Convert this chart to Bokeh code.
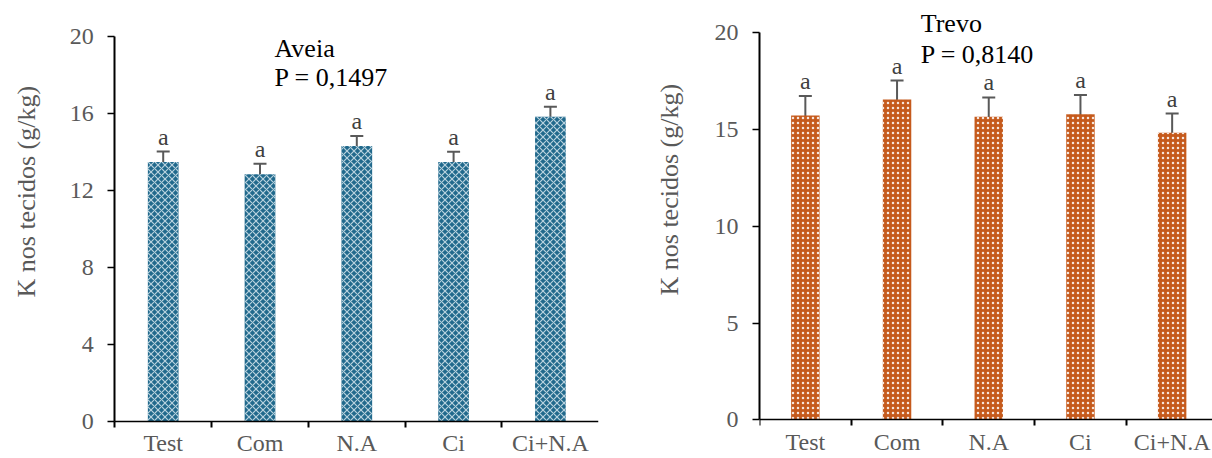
from bokeh.plotting import figure
from bokeh.models import (ColumnDataSource, Range1d, FixedTicker, Whisker, TeeHead, Label, Title)
from bokeh.layouts import row
from bokeh.core.properties import value
from bokeh.embed import file_html
from bokeh.resources import INLINE

categories = ["Test", "Com", "N.A", "Ci", "Ci+N.A"]
aveia_values = [13.47, 12.83, 14.30, 13.47, 15.81]
aveia_errors = [0.54, 0.54, 0.52, 0.53, 0.52]
aveia_letters = ["a", "a", "a", "a", "a"]
trevo_values = [15.73, 16.55, 15.66, 15.79, 14.83]
trevo_errors = [1.00, 0.98, 1.00, 0.99, 1.00]
trevo_letters = ["a", "a", "a", "a", "a"]
aveia_yticks = [0, 4, 8, 12, 16, 20]
trevo_yticks = [0, 5, 10, 15, 20]

FONT = "Liberation Serif"
GRAY = "#595959"
YTITLE = "K nos tecidos (g/kg)"


def make_panel(vals, errs, letters, yticks, width, height, borders, x_rng, y_rng,
               fill, hatch, hatch_color, hatch_scale, hatch_weight, bar_w,
               title1, title2, tpos, ytitle_standoff, ytitle_offset, fixed_y):
    centers = [i + 0.5 for i in range(len(categories))]
    src = ColumnDataSource(dict(
        x=centers, top=vals, upper=[v + e for v, e in zip(vals, errs)],
        lower=[v - e for v, e in zip(vals, errs)], lab=letters))
    p = figure(width=width, height=height, output_backend="svg", toolbar_location=None,
               title_location=None,
               x_range=Range1d(*x_rng), y_range=Range1d(*y_rng),
               min_border_left=borders[0], min_border_right=borders[1],
               min_border_top=borders[2], min_border_bottom=borders[3])
    p.outline_line_color = None
    p.grid.visible = False
    p.background_fill_color = "white"
    p.border_fill_color = "white"

    p.vbar(x="x", top="top", bottom=0, width=bar_w, source=src, fill_color=fill,
           line_color=None, hatch_pattern=hatch, hatch_color=hatch_color,
           hatch_scale=hatch_scale, hatch_weight=hatch_weight)
    p.add_layout(Whisker(base="x", upper="upper", lower="lower", source=src,
                         line_color=GRAY, line_width=2,
                         upper_head=TeeHead(size=13, line_color=GRAY, line_width=2),
                         lower_head=TeeHead(size=13, line_color=GRAY, line_width=2)))
    p.text(x="x", y="upper", text="lab", source=src, text_align="center",
           text_baseline="bottom", y_offset=-2,
           text_font=value(FONT), text_font_size="24px", text_color="#404040")

    # x axis (drawn at y = 0)
    xa = p.xaxis[0]
    xa.ticker = FixedTicker(ticks=centers, minor_ticks=list(range(len(categories) + 1)))
    xa.major_label_overrides = {c: n for c, n in zip(centers, categories)}
    xa.bounds = (0, len(categories))
    xa.fixed_location = 0
    xa.major_tick_out = 0
    xa.major_tick_in = 0
    xa.minor_tick_out = 6
    xa.minor_tick_in = 0
    xa.minor_tick_line_color = "black"
    xa.minor_tick_line_width = 2
    xa.axis_line_color = "black"
    xa.axis_line_width = 1.5
    xa.major_label_text_font = FONT
    xa.major_label_text_font_size = "24px"
    xa.major_label_text_color = GRAY
    xa.major_label_standoff = 3

    # y axis
    ya = p.yaxis[0]
    ya.ticker = FixedTicker(ticks=yticks)
    ya.bounds = (0, 20)
    if fixed_y:
        ya.fixed_location = 0
    ya.major_tick_out = 7
    ya.major_tick_in = 0
    ya.minor_tick_line_color = None
    ya.major_tick_line_color = "black"
    ya.major_tick_line_width = 1.5
    ya.axis_line_color = "black"
    ya.axis_line_width = 2
    ya.major_label_text_font = FONT
    ya.major_label_text_font_size = "24px"
    ya.major_label_text_color = GRAY
    ya.major_label_standoff = 14

    p.add_layout(Title(text=YTITLE, align="left", offset=ytitle_offset,
                       vertical_align="bottom", standoff=ytitle_standoff,
                       text_font=FONT, text_font_size="26px", text_font_style="normal",
                       text_color=GRAY), "left")
    p.add_layout(Label(x=tpos[0], y=tpos[1], text=title1, text_align="left",
                       text_baseline="middle", text_font=FONT, text_font_size="26px",
                       text_color="black"))
    p.add_layout(Label(x=tpos[0], y=tpos[2], text=title2, text_align="left",
                       text_baseline="middle", text_font=FONT, text_font_size="26px",
                       text_color="black"))
    return p


left = make_panel(aveia_values, aveia_errors, aveia_letters, aveia_yticks,
                  width=610, height=458, borders=(48, 12, 0, 0),
                  x_rng=(-0.685, 4.997), y_rng=(-1.938, 21.855),
                  fill="#21698c", hatch="diagonal_cross", hatch_color="#b8d2de",
                  hatch_scale=7, hatch_weight=1.2, bar_w=0.317,
                  title1="Aveia", title2="P = 0,1497", tpos=(1.65, 19.36, 17.85),
                  ytitle_standoff=16, ytitle_offset=161, fixed_y=True)

right = make_panel(trevo_values, trevo_errors, trevo_letters, trevo_yticks,
                   width=602, height=458, borders=(149, 0, 0, 0),
                   x_rng=(0, 4.94), y_rng=(-2.0, 21.67),
                   fill="#c55a1c", hatch="dot", hatch_color="#f6e6dc",
                   hatch_scale=5, hatch_weight=2, bar_w=0.31,
                   title1="Trevo", title2="P = 0,8140", tpos=(1.758, 20.48, 18.88),
                   ytitle_standoff=55, ytitle_offset=163, fixed_y=False)

layout = row(left, right)
open("out.html", "w").write(file_html(layout, INLINE))
